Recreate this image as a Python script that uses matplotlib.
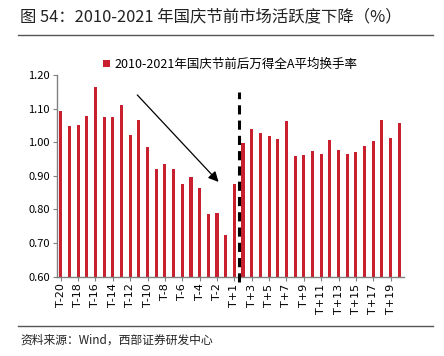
import matplotlib.pyplot as plt
from matplotlib.lines import Line2D

plt.rcParams['font.family'] = ['Noto Sans CJK SC', 'DejaVu Sans']

dias = ["T-20", "T-19", "T-18", "T-17", "T-16", "T-15", "T-14", "T-13", "T-12", "T-11",
        "T-10", "T-9", "T-8", "T-7", "T-6", "T-5", "T-4", "T-3", "T-2", "T-1",
        "T+1", "T+2", "T+3", "T+4", "T+5", "T+6", "T+7", "T+8", "T+9", "T+10",
        "T+11", "T+12", "T+13", "T+14", "T+15", "T+16", "T+17", "T+18", "T+19", "T+20"]
turnover = [1.094, 1.049, 1.052, 1.078, 1.166, 1.076, 1.076, 1.110, 1.021, 1.067,
            0.987, 0.919, 0.934, 0.921, 0.876, 0.898, 0.865, 0.787, 0.790, 0.723,
            0.877, 0.999, 1.041, 1.029, 1.019, 1.011, 1.062, 0.958, 0.962, 0.974,
            0.965, 1.007, 0.977, 0.964, 0.972, 0.989, 1.004, 1.066, 1.014, 1.056]
serie = "2010-2021年国庆节前后万得全A平均换手率"

rojo = "#C8202F"
gris = "#808080"

fig = plt.figure(figsize=(4.44, 3.56), dpi=100)
ax = fig.add_axes([0.128, 0.223, 0.782, 0.566])

x = list(range(len(dias)))
ax.bar(x, turnover, width=0.36, color=rojo, label=serie, zorder=2)

ax.set_ylim(0.6, 1.2)
ax.set_xlim(-0.45, 39.55)
ax.set_yticks([0.6, 0.7, 0.8, 0.9, 1.0, 1.1, 1.2])
ax.set_yticklabels(["%.2f" % v for v in ax.get_yticks()], fontsize=8)
ax.set_xticks(x[::2])
ax.set_xticklabels(dias[::2], rotation=90, fontsize=8, family='DejaVu Sans')
ax.tick_params(axis='both', length=3, color=gris, width=0.8, pad=2)

for lado in ["top", "right"]:
    ax.spines[lado].set_visible(False)
for lado in ["left", "bottom"]:
    ax.spines[lado].set_color(gris)
    ax.spines[lado].set_linewidth(1.0)

# linea del feriado y flecha de tendencia
ax.plot([20.5, 20.5], [0.585, 1.15], color="black", linestyle=(0, (3, 2)),
        linewidth=2.2, clip_on=False, zorder=3)
ax.annotate("", xy=(18.4, 0.876), xytext=(8.6, 1.147),
            arrowprops=dict(arrowstyle="-|>,head_length=0.6,head_width=0.3",
                            color="black", lw=0.9))

ax.legend(loc="upper center", bbox_to_anchor=(0.5, 1.14), frameon=False,
          fontsize=9, handlelength=0.5, handleheight=0.5, handletextpad=0.4)

fig.text(0.045, 0.952, "图 54：2010-2021 年国庆节前市场活跃度下降（%）",
         fontsize=11.8, va="center", color="#222222")
fig.add_artist(Line2D([0.041, 0.975], [0.902, 0.902], color="#555555", lw=1.0))
fig.add_artist(Line2D([0.041, 0.975], [0.084, 0.084], color="#555555", lw=1.0))
fig.text(0.045, 0.045, "资料来源：Wind，西部证券研发中心", fontsize=8.5,
         va="center", color="#222222")

fig.savefig("out.png", dpi=100)
